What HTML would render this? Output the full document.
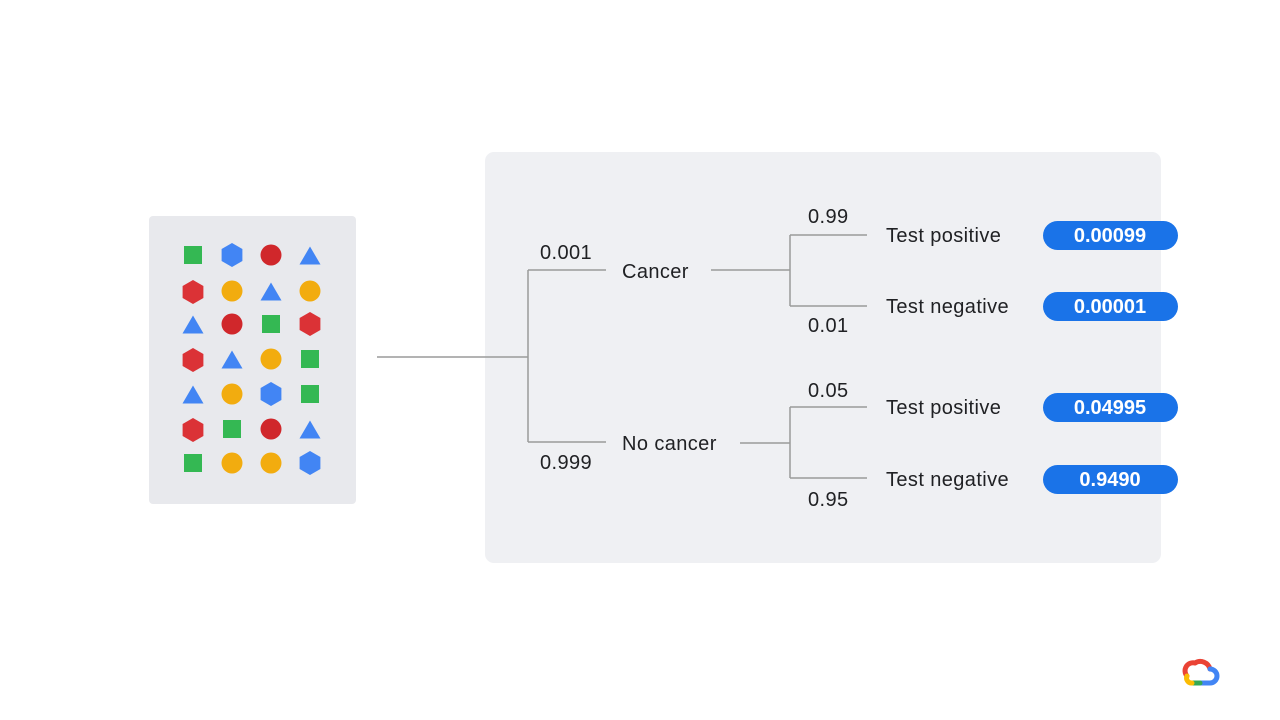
<!DOCTYPE html>
<html><head><style>body{margin:0;background:#fff}svg{display:block}</style></head><body>
<svg width="1280" height="720" viewBox="0 0 1280 720" xmlns="http://www.w3.org/2000/svg" font-family="Liberation Sans, sans-serif">
<rect x="485" y="152" width="676" height="411" rx="9" fill="#eff0f3"/>
<rect x="149" y="216" width="207" height="288" rx="4" fill="#e8e9ed"/>
<defs>
<rect id="sq" x="-9" y="-9" width="18" height="18" fill="#34b853"/>
<polygon id="hb" points="0,-12 10.4,-6 10.4,6 0,12 -10.4,6 -10.4,-6" fill="#4285f4"/>
<polygon id="hr" points="0,-12 10.4,-6 10.4,6 0,12 -10.4,6 -10.4,-6" fill="#db3236"/>
<circle id="cr" r="10.5" fill="#d0272b"/>
<circle id="cy" r="10.5" fill="#f2ac0f"/>
<polygon id="tb" points="0,-9.5 10.5,8.5 -10.5,8.5" fill="#4285f4"/>
</defs>
<g>
<use href="#sq" x="193" y="255"/><use href="#hb" x="232" y="255"/><use href="#cr" x="271" y="255"/><use href="#tb" x="310" y="256"/>
<use href="#hr" x="193" y="292"/><use href="#cy" x="232" y="291"/><use href="#tb" x="271" y="292"/><use href="#cy" x="310" y="291"/>
<use href="#tb" x="193" y="325"/><use href="#cr" x="232" y="324"/><use href="#sq" x="271" y="324"/><use href="#hr" x="310" y="324"/>
<use href="#hr" x="193" y="360"/><use href="#tb" x="232" y="360"/><use href="#cy" x="271" y="359"/><use href="#sq" x="310" y="359"/>
<use href="#tb" x="193" y="395"/><use href="#cy" x="232" y="394"/><use href="#hb" x="271" y="394"/><use href="#sq" x="310" y="394"/>
<use href="#hr" x="193" y="430"/><use href="#sq" x="232" y="429"/><use href="#cr" x="271" y="429"/><use href="#tb" x="310" y="430"/>
<use href="#sq" x="193" y="463"/><use href="#cy" x="232" y="463"/><use href="#cy" x="271" y="463"/><use href="#hb" x="310" y="463"/>
</g>
<g stroke="#9a9a9a" stroke-width="1.5" fill="none">
<path d="M377 357H528M528 270V442M528 270H606M528 442H606"/>
<path d="M711 270H790M790 235V306M790 235H867M790 306H867"/>
<path d="M740 443H790M790 407V478M790 407H867M790 478H867"/>
</g>
<g font-size="20" fill="#202124" letter-spacing="0.4">
<text x="540" y="259">0.001</text>
<text x="540" y="469">0.999</text>
<text x="622" y="278">Cancer</text>
<text x="622" y="450">No cancer</text>
<text x="808" y="223">0.99</text>
<text x="808" y="332">0.01</text>
<text x="808" y="397">0.05</text>
<text x="808" y="506">0.95</text>
<text x="886" y="242">Test positive</text>
<text x="886" y="313">Test negative</text>
<text x="886" y="414">Test positive</text>
<text x="886" y="486">Test negative</text>
</g>
<g fill="#1a73e8">
<rect x="1043" y="221" width="135" height="29" rx="14.5"/>
<rect x="1043" y="292" width="135" height="29" rx="14.5"/>
<rect x="1043" y="393" width="135" height="29" rx="14.5"/>
<rect x="1043" y="465" width="135" height="29" rx="14.5"/>
</g>
<g font-size="20" font-weight="bold" fill="#fff" text-anchor="middle">
<text x="1110" y="242">0.00099</text>
<text x="1110" y="313">0.00001</text>
<text x="1110" y="414">0.04995</text>
<text x="1110" y="486">0.9490</text>
</g>
<g fill="none" stroke-width="5" stroke-linecap="round">
<path d="M1187 676 A8 8 0 0 1 1195 663" stroke="#ea4335"/>
<path d="M1195 663 A10 10 0 0 1 1210 669" stroke="#ea4335"/>
<path d="M1210 669 A7 7 0 0 1 1210 683 H1200" stroke="#4285f4"/>
<path d="M1200 683 H1192" stroke="#34a853"/>
<path d="M1192 683 A5 5 0 0 1 1187 676" stroke="#fbbc04"/>
</g>
</svg>
</body></html>
